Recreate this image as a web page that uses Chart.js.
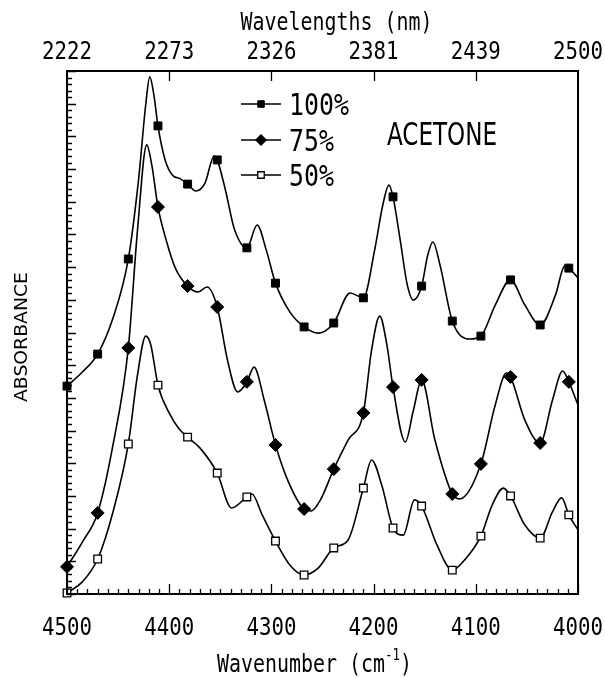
<!DOCTYPE html>
<html>
<head>
<meta charset="utf-8">
<title>Acetone NIR absorbance</title>
<script src="https://cdn.jsdelivr.net/npm/chart.js"></script>
<style>
  html, body { margin: 0; padding: 0; background: #fff; }
  canvas { display: block; }
</style>
</head>
<body>
<canvas id="spectrum" width="605" height="678"></canvas>
<script>
// wavenumbers (cm-1) where the symbols sit, same for the three curves
var markerWavenumbers = [4500, 4470, 4440, 4411, 4382, 4353, 4324, 4296, 4268, 4239, 4210, 4181, 4153, 4123, 4095, 4066, 4037, 4009];

// absorbance at the symbols
var markers100 = [0.636, 0.734, 1.025, 1.432, 1.254, 1.328, 1.059, 0.951, 0.817, 0.829, 0.906, 1.215, 0.942, 0.835, 0.789, 0.961, 0.823, 0.997];
var markers75 = [0.083, 0.248, 0.753, 1.184, 0.942, 0.878, 0.649, 0.456, 0.260, 0.382, 0.554, 0.633, 0.655, 0.306, 0.398, 0.664, 0.462, 0.649];
var markers50 = [0.003, 0.107, 0.459, 0.639, 0.480, 0.370, 0.297, 0.162, 0.058, 0.141, 0.324, 0.202, 0.269, 0.073, 0.177, 0.300, 0.171, 0.242];

// extra points read between the symbols (peaks, dips, shoulders)
var shapeWn100 = [4485, 4455, 4430, 4423, 4419, 4415, 4404, 4397, 4389, 4374, 4365, 4356, 4345, 4336, 4314, 4305, 4282, 4254, 4223, 4199, 4191, 4185, 4174, 4167, 4161, 4147, 4142, 4135, 4106, 4081, 4052, 4022, 4013, 4000];
var shapeAbs100 = [0.679, 0.844, 1.267, 1.496, 1.582, 1.527, 1.328, 1.282, 1.270, 1.233, 1.257, 1.340, 1.236, 1.114, 1.129, 1.052, 0.863, 0.798, 0.921, 1.052, 1.190, 1.251, 1.083, 0.945, 0.899, 1.037, 1.077, 1.006, 0.780, 0.884, 0.884, 0.915, 1.003, 0.967];

var shapeWn75 = [4485, 4455, 4431, 4422, 4417, 4403, 4394, 4372, 4363, 4343, 4333, 4317, 4307, 4282, 4261, 4252, 4225, 4202, 4194, 4187, 4169, 4161, 4140, 4116, 4081, 4070, 4052, 4025, 4015, 4000];
var shapeAbs75 = [0.159, 0.456, 1.114, 1.374, 1.312, 1.083, 0.997, 0.924, 0.939, 0.716, 0.618, 0.694, 0.593, 0.333, 0.254, 0.288, 0.471, 0.746, 0.850, 0.762, 0.465, 0.563, 0.471, 0.291, 0.578, 0.676, 0.532, 0.593, 0.682, 0.578];

var shapeWn50 = [4485, 4455, 4431, 4423, 4418, 4399, 4391, 4370, 4339, 4319, 4309, 4282, 4254, 4225, 4202, 4192, 4171, 4160, 4138, 4111, 4084, 4073, 4052, 4025, 4016, 4000];
var shapeAbs50 = [0.037, 0.251, 0.670, 0.789, 0.762, 0.548, 0.508, 0.447, 0.263, 0.306, 0.242, 0.089, 0.080, 0.165, 0.410, 0.333, 0.180, 0.288, 0.150, 0.104, 0.272, 0.324, 0.211, 0.251, 0.294, 0.196];

// axis labels
var bottomTicks = [4500, 4400, 4300, 4200, 4100, 4000];
var topTickLabels = ['2222', '2273', '2326', '2381', '2439', '2500'];
var seriesLabels = ['100%', '75%', '50%'];

function curve(markers, wns, vals) {
	var pts = [];
	markerWavenumbers.forEach(function(w, i) { pts.push({ x: w, y: markers[i] }); });
	wns.forEach(function(w, i) { pts.push({ x: w, y: vals[i] }); });
	pts.sort(function(a, b) { return b.x - a.x; });
	return pts;
}
function symbols(markers) {
	return markerWavenumbers.map(function(w, i) { return { x: w, y: markers[i] }; });
}

var styles = [
	{ pointStyle: 'rect', radius: 5.6, fill: '#000', border: 1 },
	{ pointStyle: 'rectRot', radius: 6.5, fill: '#000', border: 1 },
	{ pointStyle: 'rect', radius: 5.4, fill: '#fff', border: 1.3 }
];

var lineSet = function(data) {
	return {
		data: data,
		borderColor: '#000',
		borderWidth: 1.6,
		pointRadius: 0,
		cubicInterpolationMode: 'monotone',
		fill: false,
		order: 1
	};
};
var markerSet = function(data, s) {
	return {
		data: data,
		showLine: false,
		pointStyle: s.pointStyle,
		pointRadius: s.radius,
		pointBackgroundColor: s.fill,
		pointBorderColor: '#000',
		pointBorderWidth: s.border,
		clip: false,
		order: 0
	};
};

// draw a string squeezed horizontally (plotter-like lettering)
function squeezed(ctx, str, x, y, font, sx, align) {
	ctx.save();
	ctx.font = font;
	ctx.textAlign = 'left';
	ctx.textBaseline = 'alphabetic';
	var w = ctx.measureText(str).width * sx;
	var left = align === 'center' ? x - w / 2 : x;
	ctx.translate(left, y);
	ctx.scale(sx, 1);
	ctx.fillText(str, 0, 0);
	ctx.restore();
	return w;
}
function fitted(ctx, str, x, y, font, width) {
	ctx.save();
	ctx.font = font;
	var m = ctx.measureText(str).width;
	ctx.restore();
	return squeezed(ctx, str, x, y, font, width / m, 'left');
}

var MONO = '"DejaVu Sans Mono", monospace';
var NARROW = '"Liberation Sans Narrow", "DejaVu Sans Condensed", "Liberation Sans", sans-serif';

var decor = {
	id: 'decor',
	afterDatasetsDraw: function(chart) {
		var ctx = chart.ctx, a = chart.chartArea, x = chart.scales.x, y = chart.scales.y;
		ctx.save();
		ctx.strokeStyle = '#000';
		ctx.fillStyle = '#000';

		// frame
		ctx.lineWidth = 2;
		ctx.strokeRect(a.left, a.top, a.right - a.left, a.bottom - a.top);

		// inward ticks
		ctx.lineWidth = 1.3;
		ctx.beginPath();
		for (var k = 0; k <= 80; k++) {
			var py = Math.round(y.getPixelForValue(k * 0.02)) + 0.5;
			var len = k % 5 === 0 ? 9 : 5;
			ctx.moveTo(a.left, py);
			ctx.lineTo(a.left + len, py);
		}
		for (var w = 4000; w <= 4500; w += 10) {
			var px = Math.round(x.getPixelForValue(w)) + 0.5;
			ctx.moveTo(px, a.bottom);
			ctx.lineTo(px, a.bottom - (w % 100 === 0 ? 10 : 5));
		}
		bottomTicks.slice(1, -1).forEach(function(t) {
			var px = Math.round(x.getPixelForValue(t)) + 0.5;
			ctx.moveTo(px, a.top);
			ctx.lineTo(px, a.top + 10);
		});
		ctx.stroke();

		// tick labels
		bottomTicks.forEach(function(t, i) {
			var px = x.getPixelForValue(t);
			squeezed(ctx, String(t), px, 635, '25px ' + MONO, 0.83, 'center');
			squeezed(ctx, topTickLabels[i], px, 59, '25px ' + MONO, 0.83, 'center');
		});

		// axis titles
		squeezed(ctx, 'Wavelengths (nm)', (a.left + a.right) / 2 + 14, 30, '24px ' + MONO, 0.83, 'center');
		var cx = (a.left + a.right) / 2 - 8;
		var f = '24px ' + MONO, fs = '15px ' + MONO;
		ctx.save(); ctx.font = f;
		var w1 = ctx.measureText('Wavenumber (cm').width * 0.83;
		var w3 = ctx.measureText(')').width * 0.83;
		ctx.font = fs;
		var w2 = ctx.measureText('-1').width * 0.83;
		ctx.restore();
		var left = cx - (w1 + w2 + w3) / 2;
		squeezed(ctx, 'Wavenumber (cm', left, 672, f, 0.83, 'left');
		squeezed(ctx, '-1', left + w1, 660, fs, 0.83, 'left');
		squeezed(ctx, ')', left + w1 + w2, 672, f, 0.83, 'left');

		ctx.save();
		ctx.translate(27, 402);
		ctx.rotate(-Math.PI / 2);
		fitted(ctx, 'ABSORBANCE', 0, 0, '17px ' + NARROW, 130);
		ctx.restore();

		fitted(ctx, 'ACETONE', 387, 145, '32px ' + NARROW, 110);

		// legend inside the plot
		var rows = [104, 140, 175];
		rows.forEach(function(ry, i) {
			ctx.lineWidth = 1.6;
			ctx.beginPath();
			ctx.moveTo(241, ry);
			ctx.lineTo(281, ry);
			ctx.stroke();
			var s = styles[i];
			ctx.fillStyle = s.fill;
			ctx.lineWidth = s.border;
			Chart.helpers.drawPoint(ctx, {
				pointStyle: s.pointStyle,
				radius: i === 1 ? 5.5 : 4.6,
				borderWidth: s.border
			}, 261, ry);
			ctx.fillStyle = '#000';
			squeezed(ctx, seriesLabels[i], 289, ry + 11, '30px ' + MONO, 0.83, 'left');
		});
		ctx.restore();
	}
};

new Chart(document.getElementById('spectrum').getContext('2d'), {
	type: 'line',
	data: {
		datasets: [
			markerSet(symbols(markers100), styles[0]),
			markerSet(symbols(markers75), styles[1]),
			markerSet(symbols(markers50), styles[2]),
			lineSet(curve(markers100, shapeWn100, shapeAbs100)),
			lineSet(curve(markers75, shapeWn75, shapeAbs75)),
			lineSet(curve(markers50, shapeWn50, shapeAbs50))
		]
	},
	options: {
		responsive: false,
		animation: false,
		devicePixelRatio: 1,
		layout: { padding: { left: 67, right: 27, top: 71, bottom: 84 } },
		plugins: { legend: { display: false }, tooltip: { enabled: false } },
		scales: {
			x: { type: 'linear', reverse: true, min: 4000, max: 4500, display: false },
			y: { type: 'linear', min: 0, max: 1.6, display: false }
		}
	},
	plugins: [decor]
});
</script>
</body>
</html>
